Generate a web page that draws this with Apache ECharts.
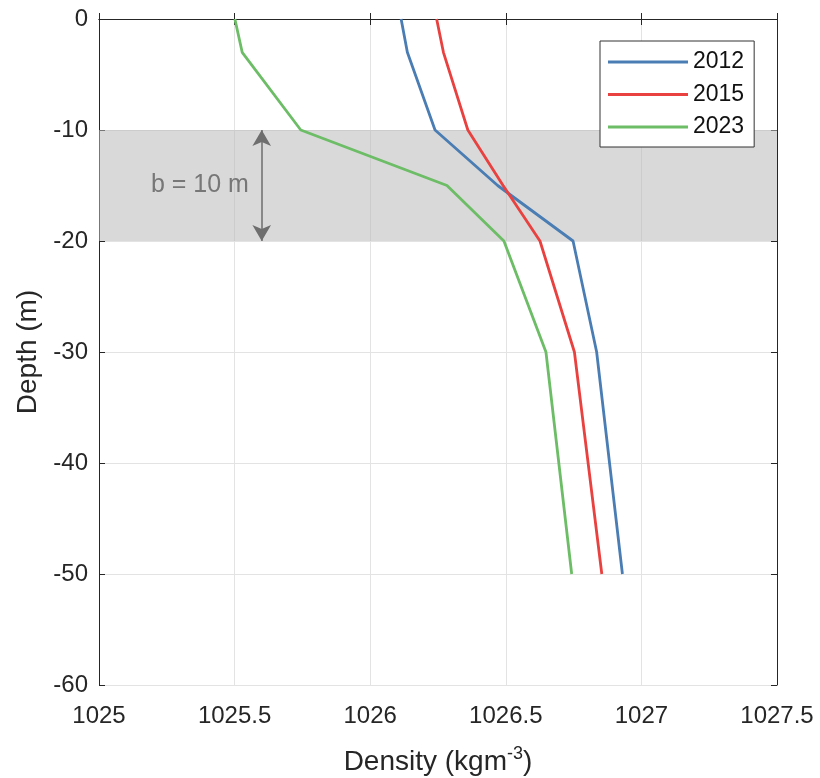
<!DOCTYPE html>
<html><head><meta charset="utf-8">
<script src="https://cdn.jsdelivr.net/npm/echarts@6/dist/echarts.min.js"></script>
<style>html,body{margin:0;padding:0;background:#fff}#c{width:820px;height:778px}</style>
</head><body><div id="c"></div>
<script>
const depths2012 = [0, -3, -10, -15, -20, -30, -50];
const dens2012 = [1026.114, 1026.137, 1026.239, 1026.47, 1026.748, 1026.835, 1026.93];
const depths2015 = [0, -3, -10, -15, -20, -30, -50];
const dens2015 = [1026.245, 1026.27, 1026.36, 1026.49, 1026.626, 1026.753, 1026.854];
const depths2023 = [0, -3, -10, -15, -20, -30, -50];
const dens2023 = [1025.501, 1025.528, 1025.744, 1026.283, 1026.493, 1026.648, 1026.743];
const seriesNames = ['2012', '2015', '2023'];
const band = [-10, -20];
const arrowX = 1025.6;
const bandLabel = 'b = 10 m';
const labelPos = [1025.372, -15];

const FONT = '"Liberation Sans", Arial, Helvetica, sans-serif';
const pair = (xs, ys) => xs.map((x, i) => [x, ys[i]]);
const colors = ['#4a7db3', '#e8413f', '#6cbd66'];
const chart = echarts.init(document.getElementById('c'));
const axisCommon = {
  axisLine: {show: true, lineStyle: {color: '#262626', width: 1}},
  axisTick: {show: true, inside: true, length: 6, lineStyle: {color: '#262626'}},
  splitLine: {show: false}
};
chart.setOption({
  animation: false,
  textStyle: {fontFamily: FONT},
  grid: {left: 99, top: 19, right: 43, bottom: 93, containLabel: false, outerBoundsMode: 'none'},
  legend: {
    orient: 'vertical', left: 600, top: 41,
    data: seriesNames,
    icon: 'rect',
    itemWidth: 80, itemHeight: 3, itemGap: 9.5, itemTextGap: 8,
    padding: [9.5, 10, 8.5, 8],
    borderColor: '#333', borderWidth: 1, backgroundColor: '#fff',
    textStyle: {fontSize: 23, color: '#111', fontFamily: FONT}
  },
  xAxis: [
    Object.assign({}, axisCommon, {
      type: 'value', min: 1025, max: 1027.5, interval: 0.5, position: 'bottom',
      axisLabel: {fontSize: 24, color: '#262626', margin: 19, fontFamily: FONT, formatter: v => String(v)},
      splitLine: {show: true, lineStyle: {color: '#e3e3e3', width: 1}},
      name: '{a|Density (kgm}{s|-3}{a|)}', nameLocation: 'middle', nameGap: 60,
      nameTextStyle: {rich: {a: {fontSize: 28, color: '#262626', fontFamily: FONT}, s: {fontSize: 18, color: '#262626', verticalAlign: 'top', padding: [0, 0, 16, 0], fontFamily: FONT}}}
    }),
    Object.assign({}, axisCommon, {
      type: 'value', min: 1025, max: 1027.5, interval: 0.5, position: 'top',
      axisLabel: {show: false}
    })
  ],
  yAxis: [
    Object.assign({}, axisCommon, {
      type: 'value', min: -60, max: 0, interval: 10, position: 'left',
      axisLabel: {fontSize: 24, color: '#262626', margin: 11, fontFamily: FONT},
      splitLine: {show: true, lineStyle: {color: '#e3e3e3', width: 1}},
      name: 'Depth (m)', nameLocation: 'middle', nameGap: 56,
      nameTextStyle: {fontSize: 28, color: '#262626', fontFamily: FONT}
    }),
    Object.assign({}, axisCommon, {
      type: 'value', min: -60, max: 0, interval: 10, position: 'right',
      axisLabel: {show: false}
    })
  ],
  series: [
    {
      type: 'line', name: '_band', data: [], z: 1, silent: true,
      markArea: {silent: true, itemStyle: {color: 'rgba(185,185,185,0.55)'},
        data: [[{yAxis: band[0]}, {yAxis: band[1]}]]},
      markLine: {silent: true, symbol: ['arrow', 'arrow'], symbolSize: [14, 16],
        lineStyle: {color: '#6e6e6e', width: 1.5, type: 'solid'},
        label: {show: false},
        data: [[{coord: [arrowX, band[0]]}, {coord: [arrowX, band[1]]}]]},
      markPoint: {silent: true, symbol: 'none',
        label: {show: true, formatter: bandLabel, fontSize: 25, color: '#777', fontFamily: FONT, position: 'inside'},
        data: [{coord: labelPos, symbol: 'circle', symbolSize: 1, itemStyle: {color: 'rgba(0,0,0,0)'}}]}
    },
    {type: 'line', name: seriesNames[0], data: pair(dens2012, depths2012), symbol: 'none', z: 3,
      color: colors[0], lineStyle: {width: 2.8, color: colors[0]}},
    {type: 'line', name: seriesNames[1], data: pair(dens2015, depths2015), symbol: 'none', z: 3,
      color: colors[1], lineStyle: {width: 2.8, color: colors[1]}},
    {type: 'line', name: seriesNames[2], data: pair(dens2023, depths2023), symbol: 'none', z: 3,
      color: colors[2], lineStyle: {width: 2.8, color: colors[2]}}
  ]
});
</script></body></html>
